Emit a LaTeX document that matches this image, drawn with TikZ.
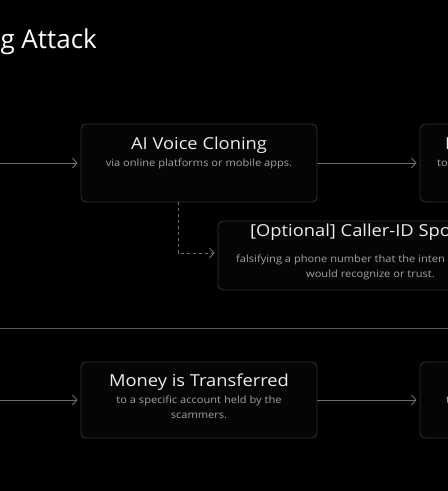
\documentclass[tikz,border=0pt]{standalone}
\usepackage{fontspec}
\setmainfont{Open Sans}[FakeStretch=1.11]
\newfontfamily\headfont{Open Sans}
\usetikzlibrary{arrows.meta}
\definecolor{bg}{HTML}{000000}
\definecolor{boxfill}{HTML}{050505}
\definecolor{boxline}{HTML}{2E2E32}
\definecolor{titlecol}{HTML}{EDEDED}
\definecolor{subcol}{HTML}{A3A3A3}
\definecolor{arrcol}{HTML}{6E6E6E}
\definecolor{sepcol}{HTML}{5A5A5A}
\tikzset{
  box/.style={draw=boxline, fill=boxfill, line width=0.9pt, rounded corners=5pt, inner sep=0pt},
  ttl/.style={text=titlecol, font=\fontsize{16.5}{20}\selectfont, inner sep=0pt},
  sub/.style={text=subcol, font=\fontsize{10}{15}\selectfont, inner sep=0pt, align=center},
  arr/.style={draw=arrcol, line width=0.9pt, -{Straight Barb[length=4.5pt,width=10pt,line width=0.9pt]}, shorten >=3pt},
  dsh/.style={arr, dashed, dash pattern=on 3pt off 3pt},
  hd/.style={text=white, font=\headfont\fontsize{26}{30}\selectfont, inner sep=0pt}
}
\begin{document}
\begin{tikzpicture}[x=1pt,y=-1pt]
\fill[bg] (0,0) rectangle (448,491);
\useasboundingbox (0,0) rectangle (448,491);
% heading
\node[hd, anchor=base east] (head) at (97,48) {g Attack};
% boxes
\node[box, minimum width=236pt, minimum height=78pt] (b1) at (199,163) {};
\node[box, minimum width=236pt, minimum height=78pt] (b2) at (538,163) {};
\node[box, minimum width=305pt, minimum height=69pt] (b3) at (370.5,255.5) {};
\node[box, minimum width=236pt, minimum height=76pt] (b4) at (199,400) {};
\node[box, minimum width=236pt, minimum height=76pt] (b5) at (538,400) {};
% texts box1
\node[ttl, anchor=base] (t1) at (199,149) {AI Voice Cloning};
\node[sub, anchor=base] (s1) at (199,166) {via online platforms or mobile apps.};
% box2
\node[ttl, anchor=base west] (t2) at (445,149) {I};
\node[sub, anchor=base west] (s2) at (437,166) {to};
% box3
\node[ttl, anchor=base west] (t3) at (250,236) {[Optional] Caller-ID Spoo};
\node[sub, anchor=base west] (s3a) at (236,262) {falsifying a phone number that the inten};
\node[sub, anchor=base] (s3b) at (370.5,277) {would recognize or trust.};
% box4
\node[ttl, anchor=base] (t4) at (199,386) {Money is Transferred};
\node[sub, anchor=base] (s4a) at (199,403) {to a specific account held by the};
\node[sub, anchor=base] (s4b) at (199,418) {scammers.};
% box5
\node[sub, anchor=base west] (s5) at (446,403) {t};
% connectors
\coordinate (in1) at (0,163);
\coordinate (in4) at (0,400);
\coordinate (bend) at (178,253);
\draw[arr] (in1) -- (b1.west);
\draw[arr] (b1.east) -- (b2.west);
\draw[arr] (in4) -- (b4.west);
\draw[arr] (b4.east) -- (b5.west);
\draw[dsh] (b1.south -| bend) -- (bend) -- (b3.west |- bend);
% separator
\coordinate (sepL) at (0,328);
\coordinate (sepR) at (448,328);
\draw[sepcol, line width=0.9pt] (sepL) -- (sepR);
\end{tikzpicture}
\end{document}
